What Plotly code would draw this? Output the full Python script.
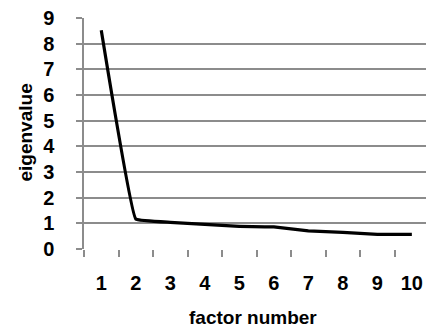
import plotly.graph_objects as go

factors = ["1", "2", "3", "4", "5", "6", "7", "8", "9", "10"]
eigenvalues = [8.52, 1.17, 1.04, 0.96, 0.88, 0.86, 0.71, 0.65, 0.57, 0.57]
y_ticks = [0, 1, 2, 3, 4, 5, 6, 7, 8, 9]
x_title = "factor number"
y_title = "eigenvalue"

FONT = "Liberation Sans, Arial, sans-serif"
GRID = "#8c8c8c"

fig = go.Figure(
    go.Scatter(
        x=factors, y=eigenvalues, mode="lines",
        line=dict(color="black", width=3.2, shape="spline", smoothing=0.2),
        hoverinfo="skip",
    )
)

fig.update_layout(
    width=426, height=329,
    margin=dict(l=84, r=0, t=18, b=80),
    paper_bgcolor="white", plot_bgcolor="white",
    showlegend=False,
    font=dict(family=FONT, color="black", size=19),
    annotations=[
        dict(text=f"<b>{x_title}</b>", xref="paper", yref="paper", x=0.5, y=0,
             xanchor="center", yanchor="middle", xshift=-2, yshift=-68,
             showarrow=False, font=dict(family=FONT, size=19, color="black")),
        dict(text=f"<b>{y_title}</b>", xref="paper", yref="paper", x=0, y=0.5,
             xanchor="center", yanchor="middle", xshift=-59, yshift=1, textangle=-90,
             showarrow=False, font=dict(family=FONT, size=19, color="black")),
    ],
)

fig.update_xaxes(
    type="category",
    range=[-0.5, 9.41],
    tickson="boundaries",
    tickvals=factors,
    ticktext=[f"<b>{f}</b>" for f in factors],
    ticks="outside", ticklen=7, tickwidth=1.5, tickcolor=GRID,
    showgrid=False,
    showline=False,
    zeroline=False,
    automargin=False,
    ticklabelstandoff=20,
    tickfont=dict(family=FONT, size=20, color="black", weight=700),
)

fig.update_yaxes(
    range=[0, 9],
    tickvals=y_ticks,
    ticktext=[f"<b>{v}</b>" for v in y_ticks],
    ticks="outside", ticklen=6, tickwidth=1.5, tickcolor=GRID,
    showgrid=True, gridcolor=GRID, gridwidth=1.5,
    showline=True, linecolor=GRID, linewidth=1.5,
    zeroline=False,
    automargin=False,
    ticklabelstandoff=18,
    tickfont=dict(family=FONT, size=20, color="black", weight=700),
)

fig.write_html(
    "out.html",
    config={"displayModeBar": False},
    post_script="document.body.style.margin='0';document.body.style.overflow='hidden';",
)
